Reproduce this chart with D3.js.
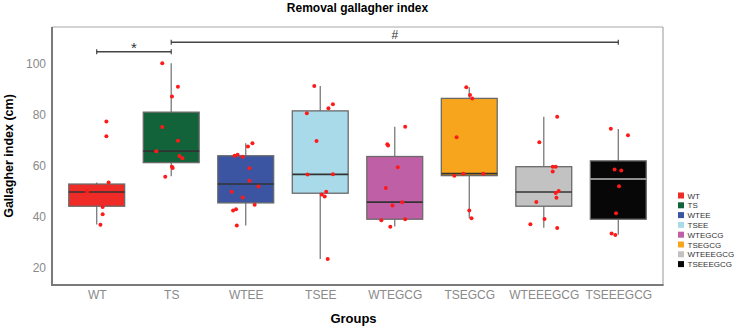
<!DOCTYPE html>
<html>
<head>
  <meta charset="UTF-8" />
  <title>Removal gallagher index</title>
  <script src="https://d3js.org/d3.v7.min.js"></script>
  <style>
    body {
      margin: 0;
      padding: 0;
      background: #fff;
      font-family: "Liberation Sans", Arial, sans-serif;
    }
  </style>
</head>
<body>
  <div id="chart"></div>
  <script>
    // groups and fill colours
    const groups = ["WT", "TS", "WTEE", "TSEE", "WTEGCG", "TSEGCG", "WTEEEGCG", "TSEEEGCG"];
    const colors = ["#EE2B26", "#13633A", "#3C55A3", "#A9DAEA", "#BF5FA6", "#F8A51E", "#C2C2C2", "#070707"];

    // box statistics: [whisker low, q1, median, q3, whisker high]
    const boxStats = [
      [37.0, 44.2, 49.8, 52.9, 53.5],
      [56.0, 61.3, 65.8, 81.1, 100.3],
      [36.6, 45.5, 52.9, 64.0, 68.9],
      [23.5, 49.3, 56.7, 81.6, 91.4],
      [36.2, 39.1, 45.8, 63.7, 75.4],
      [39.6, 56.2, 57.0, 86.5, 90.9],
      [35.8, 44.2, 49.8, 59.7, 79.3],
      [33.0, 39.1, 54.9, 62.0, 74.5]
    ];

    // individual observations per group
    const pointValues = [
      [77.4, 71.6, 53.5, 50.0, 43.9, 41.1, 36.9],
      [100.3, 91.1, 87.2, 75.3, 69.9, 65.8, 63.9, 63.0, 59.7, 59.2, 55.8],
      [64.0, 64.4, 63.6, 67.6, 68.9, 59.1, 54.2, 51.9, 49.9, 47.6, 44.8, 42.5, 43.0, 36.6],
      [91.4, 84.2, 82.6, 80.7, 69.8, 56.6, 56.7, 49.9, 48.8, 48.0, 23.5],
      [75.4, 68.5, 68.0, 59.5, 51.3, 45.8, 44.5, 38.7, 39.1, 36.1],
      [90.9, 87.8, 86.5, 71.3, 56.2, 56.9, 56.9, 42.5, 39.5],
      [79.3, 69.3, 59.7, 59.7, 57.8, 50.2, 49.4, 47.5, 45.9, 39.2, 37.1, 35.7],
      [74.6, 72.0, 58.6, 58.2, 52.0, 41.4, 33.5, 32.9]
    ];
    // horizontal jitter of each observation, as a share of the group step
    const pointJitter = [
      [0.13, 0.13, 0.16, -0.13, 0.08, 0.08, 0.05],
      [-0.12, 0.09, 0.01, -0.12, 0.09, -0.2, 0.11, 0.15, 0.01, 0.02, -0.08],
      [-0.15, -0.11, -0.04, 0.03, 0.09, 0.05, 0.05, 0.17, -0.19, -0.04, 0.12, -0.17, -0.13, -0.12],
      [-0.08, 0.17, 0.11, -0.18, -0.05, -0.17, 0.17, 0.08, 0.02, 0.06, 0.1],
      [0.14, -0.1, -0.09, 0.04, -0.12, 0.1, -0.03, -0.18, 0.14, -0.06],
      [-0.04, 0.01, 0.04, -0.17, -0.2, -0.08, 0.19, 0, 0.03],
      [0.18, -0.06, 0.12, 0.16, 0.12, 0.2, 0.16, 0.17, -0.1, 0.01, -0.18, 0.18],
      [-0.1, 0.13, -0.05, 0.04, 0.01, -0.03, -0.09, -0.04]
    ];

    const yTicks = [20, 40, 60, 80, 100];

    // significance brackets: from group, to group, height, label
    const brackets = [
      { from: "WT", to: "TS", y: 104.8, label: "*" },
      { from: "TS", to: "TSEEEGCG", y: 108.5, label: "#" }
    ];

    const W = 737, H = 328;
    const margin = { top: 27, right: 74, bottom: 43, left: 52 };
    const innerW = W - margin.left - margin.right;
    const innerH = H - margin.top - margin.bottom;

    const svg = d3.select("#chart").append("svg")
      .attr("width", W)
      .attr("height", H)
      .style("font-family", "'Liberation Sans', Arial, sans-serif");

    const g = svg.append("g").attr("transform", `translate(${margin.left},${margin.top})`);

    const x = d3.scalePoint().domain(groups).range([0, innerW]).padding(0.6);
    const y = d3.scaleLinear().domain([13.3, 114.5]).range([innerH, 0]);
    const step = x.step();
    const boxW = step * 0.75;

    // panel frame: top and right lighter
    g.append("line").attr("x1", 0).attr("x2", innerW).attr("y1", 0).attr("y2", 0)
      .attr("stroke", "#a8a8a8").attr("stroke-width", 1.2);
    g.append("line").attr("x1", innerW).attr("x2", innerW).attr("y1", 0).attr("y2", innerH)
      .attr("stroke", "#a8a8a8").attr("stroke-width", 1.2);

    // y axis
    const yAxis = g.append("g")
      .call(d3.axisLeft(y).tickValues(yTicks).tickSize(0).tickPadding(6));
    yAxis.select(".domain").remove();
    yAxis.selectAll("text")
      .style("font-size", "12px")
      .style("fill", "#8a8a8a")
      .style("font-family", "'Liberation Sans', Arial, sans-serif");

    // x axis
    const xAxis = g.append("g")
      .attr("transform", `translate(0,${innerH})`)
      .call(d3.axisBottom(x).tickSize(0).tickPadding(5));
    xAxis.select(".domain").remove();
    xAxis.selectAll("text")
      .style("font-size", "12px")
      .style("fill", "#8a8a8a")
      .style("font-family", "'Liberation Sans', Arial, sans-serif");

    g.append("line").attr("x1", 0).attr("x2", 0).attr("y1", 0).attr("y2", innerH + 1)
      .attr("stroke", "#7a7a7a").attr("stroke-width", 2);
    g.append("line").attr("x1", -1).attr("x2", innerW + 0.6).attr("y1", innerH).attr("y2", innerH)
      .attr("stroke", "#7a7a7a").attr("stroke-width", 2);

    // boxes
    const box = g.selectAll(".box")
      .data(groups)
      .enter()
      .append("g")
      .attr("class", "box")
      .attr("transform", d => `translate(${x(d)},0)`);

    box.append("line")
      .attr("x1", 0).attr("x2", 0)
      .attr("y1", (d, i) => y(boxStats[i][0]))
      .attr("y2", (d, i) => y(boxStats[i][4]))
      .attr("stroke", "#7a7a7a")
      .attr("stroke-width", 1.3);

    box.append("rect")
      .attr("x", -boxW / 2)
      .attr("width", boxW)
      .attr("y", (d, i) => y(boxStats[i][3]))
      .attr("height", (d, i) => y(boxStats[i][1]) - y(boxStats[i][3]))
      .attr("fill", (d, i) => colors[i])
      .attr("stroke", "#6a6a6a")
      .attr("stroke-width", 1.3);

    box.append("line")
      .attr("x1", -boxW / 2).attr("x2", boxW / 2)
      .attr("y1", (d, i) => y(boxStats[i][2]))
      .attr("y2", (d, i) => y(boxStats[i][2]))
      .attr("stroke", (d, i) => (i === 7 ? "#bdbdbd" : "#333"))
      .attr("stroke-width", 1.6);

    // jittered points
    const pts = [];
    groups.forEach((grp, i) => {
      pointValues[i].forEach((v, j) => pts.push({ grp, v, jit: pointJitter[i][j] }));
    });
    g.selectAll(".pt")
      .data(pts)
      .enter()
      .append("circle")
      .attr("class", "pt")
      .attr("cx", d => x(d.grp) + d.jit * step)
      .attr("cy", d => y(d.v))
      .attr("r", 2)
      .attr("fill", "#ff1a1a");

    // significance brackets
    brackets.forEach(b => {
      const x1 = x(b.from), x2 = x(b.to), yy = y(b.y);
      g.append("line").attr("x1", x1).attr("x2", x2).attr("y1", yy).attr("y2", yy)
        .attr("stroke", "#444").attr("stroke-width", 1.4);
      [x1, x2].forEach(xx => {
        g.append("line").attr("x1", xx).attr("x2", xx).attr("y1", yy - 2.5).attr("y2", yy + 2.5)
          .attr("stroke", "#444").attr("stroke-width", 1.2);
      });
      const star = b.label === "*";
      g.append("text")
        .attr("x", (x1 + x2) / 2)
        .attr("y", star ? yy + 1.5 : yy - 3)
        .attr("text-anchor", "middle")
        .style("font-size", star ? "15px" : "12px")
        .style("fill", "#333")
        .text(b.label);
    });

    // title and axis titles
    svg.append("text")
      .attr("x", margin.left + innerW / 2)
      .attr("y", 12)
      .attr("text-anchor", "middle")
      .style("font-size", "12px")
      .style("font-weight", "bold")
      .text("Removal gallagher index");

    svg.append("text")
      .attr("transform", `translate(13,${margin.top + innerH / 2}) rotate(-90)`)
      .attr("text-anchor", "middle")
      .style("font-size", "12.5px")
      .style("font-weight", "bold")
      .text("Gallagher index (cm)");

    svg.append("text")
      .attr("x", margin.left + innerW / 2 - 4)
      .attr("y", 323)
      .attr("text-anchor", "middle")
      .style("font-size", "13px")
      .style("font-weight", "bold")
      .text("Groups");

    // legend
    const legend = svg.append("g").attr("transform", "translate(678,195.5)");
    const item = legend.selectAll(".item")
      .data(groups)
      .enter()
      .append("g")
      .attr("transform", (d, i) => `translate(0,${i * 9.8})`);
    item.append("rect")
      .attr("x", 0).attr("y", -3)
      .attr("width", 6).attr("height", 6)
      .attr("fill", (d, i) => colors[i]);
    item.append("text")
      .attr("x", 9.5)
      .attr("y", 3)
      .style("font-size", "8px")
      .style("fill", "#333")
      .text(d => d);
  </script>
</body>
</html>
